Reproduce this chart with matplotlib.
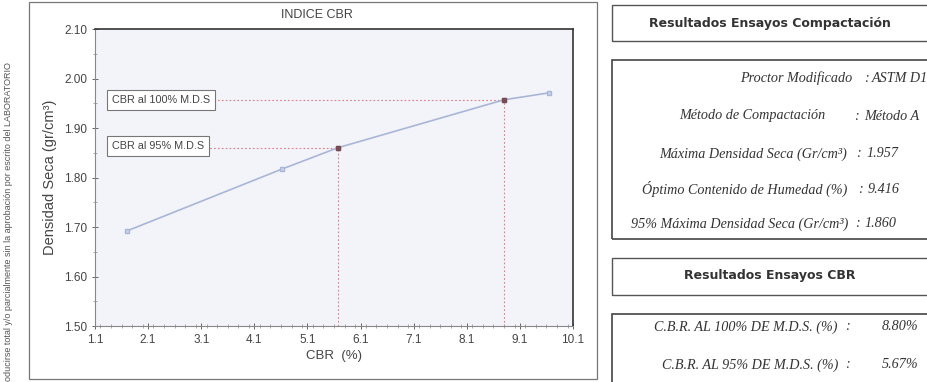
import matplotlib
matplotlib.use("Agg")
import matplotlib.pyplot as plt
from matplotlib.patches import Rectangle
from matplotlib.ticker import MultipleLocator, FixedLocator

# CBR curve (CBR %, dry density g/cm3)
cbr = [1.70, 4.62, 5.67, 8.80, 9.65]
densidad = [1.692, 1.817, 1.860, 1.957, 1.971]

# Design values
cbr_100 = 8.80
mds_100 = 1.957
cbr_95 = 5.67
mds_95 = 1.860

x_ticks = [1.1, 2.1, 3.1, 4.1, 5.1, 6.1, 7.1, 8.1, 9.1, 10.1]
y_ticks = [1.50, 1.60, 1.70, 1.80, 1.90, 2.00, 2.10]

compactacion_labels = ["Proctor Modificado", "Método de Compactación",
                       "Máxima Densidad Seca (Gr/cm³)", "Óptimo Contenido de Humedad (%)",
                       "95% Máxima Densidad Seca (Gr/cm³)"]
compactacion_values = ["ASTM D1557", "Método A", "1.957", "9.416", "1.860"]

cbr_labels = ["C.B.R. AL 100% DE M.D.S. (%)", "C.B.R. AL 95% DE M.D.S. (%)"]
cbr_values = ["8.80%", "5.67%"]

W, H = 928, 382
SANS = ["Liberation Sans", "DejaVu Sans"]
TXT = "#444444"

fig = plt.figure(figsize=(W / 100, H / 100), dpi=100)
fig.patch.set_facecolor("white")


def fx(px):
    return px / W


def fy(py):
    return 1 - py / H


def box(x0, y0, x1, y1, lw=1.0, color="#555555"):
    fig.add_artist(Rectangle((fx(x0), fy(y1)), fx(x1 - x0), (y1 - y0) / H,
                             transform=fig.transFigure, fill=False,
                             edgecolor=color, linewidth=lw))


# chart frame
box(29, 2, 597, 379, lw=0.9, color="#777777")

ax = fig.add_axes([fx(95), fy(326), fx(573 - 95), (326 - 29) / H])
ax.set_facecolor("#f3f4fa")
ax.set_xlim(1.1, 10.1)
ax.set_ylim(1.50, 2.10)
ax.xaxis.set_major_locator(FixedLocator(x_ticks))
ax.yaxis.set_major_locator(FixedLocator(y_ticks))
ax.xaxis.set_minor_locator(MultipleLocator(0.2))
ax.yaxis.set_minor_locator(MultipleLocator(0.05))
ax.set_xticklabels([f"{v:.1f}" for v in x_ticks], family=SANS, fontsize=8.5, color=TXT)
ax.set_yticklabels([f"{v:.2f}" for v in y_ticks], family=SANS, fontsize=8.5, color=TXT)
ax.tick_params(which="major", direction="inout", length=5, width=0.7, colors="#666666", pad=3)
ax.tick_params(which="minor", direction="inout", length=2.5, width=0.5, colors="#888888")
ax.tick_params(axis="both", labelcolor=TXT)
for side in ["left", "bottom"]:
    ax.spines[side].set_color("#888888")
    ax.spines[side].set_linewidth(0.8)
for side in ["top", "right"]:
    ax.spines[side].set_color("#333333")
    ax.spines[side].set_linewidth(1.2)

ax.set_xlabel("CBR  (%)", family=SANS, fontsize=9.5, color=TXT, labelpad=3)
ax.set_ylabel("Densidad Seca (gr/cm³)", family=SANS, fontsize=10.5, color=TXT, labelpad=5)

# reference lines to the design points
ref_color = "#e07a80"
dots = (0, (1.5, 2))
ax.plot([1.1 + 0.62, cbr_100], [mds_100, mds_100], color=ref_color, lw=0.8, ls=dots)
ax.plot([cbr_100, cbr_100], [1.50, mds_100], color=ref_color, lw=0.8, ls=dots)
ax.plot([1.1 + 0.62, cbr_95], [mds_95, mds_95], color=ref_color, lw=0.8, ls=dots)
ax.plot([cbr_95, cbr_95], [1.50, mds_95], color=ref_color, lw=0.8, ls=dots)

# CBR curve
ax.plot(cbr, densidad, color="#a9b6d6", lw=1.2, marker="s", markersize=3,
        markerfacecolor="#c9d2ea", markeredgecolor="#a9b6d6", zorder=3)
ax.plot([cbr_95, cbr_100], [mds_95, mds_100], ls="none", marker="s", markersize=3.5,
        color="#7a4a55", zorder=4)

bbox = dict(boxstyle="square,pad=0.45", facecolor="white", edgecolor="#777777", linewidth=0.8)
ax.text(1.42, mds_100, "CBR al 100% M.D.S", family=SANS, fontsize=7.8, color=TXT,
        va="center", ha="left", bbox=bbox, zorder=5)
ax.text(1.42, mds_95 + 0.004, "CBR al 95% M.D.S", family=SANS, fontsize=7.8, color=TXT,
        va="center", ha="left", bbox=bbox, zorder=5)

fig.text(fx(317), fy(15), "INDICE CBR", family=SANS, fontsize=9, color=TXT,
         ha="center", va="center")

fig.text(fx(9), fy(222),
         "oducirse total y/o parcialmente sin la aprobación por escrito del LABORATORIO",
         family=SANS, fontsize=6.5, color="#555555", rotation=90, ha="center", va="center")

# results panels
box(612, 5, 940, 41, lw=1.0, color="#555555")
box(612, 60, 940, 239, lw=1.2, color="#444444")
box(612, 258, 940, 295, lw=1.0, color="#555555")
box(612, 314, 940, 400, lw=1.2, color="#444444")

fig.text(fx(770), fy(24), "Resultados Ensayos Compactación", family="DejaVu Sans",
         fontweight="bold", fontsize=9, color="#333333", ha="center", va="center")
fig.text(fx(770), fy(276), "Resultados Ensayos CBR", family="DejaVu Sans",
         fontweight="bold", fontsize=9, color="#333333", ha="center", va="center")

serif = dict(family="Liberation Serif", style="italic", fontsize=10.2, color="#333333", va="center")
rows_y = [78, 116, 154, 189, 224]
label_end = [852, 825, 847, 847, 848]
colon_x = [866, 856, 858, 860, 857]
value_x = [872, 864, 867, 868, 865]
for lab, val, yy, le, cx, vx in zip(compactacion_labels, compactacion_values, rows_y,
                                    label_end, colon_x, value_x):
    fig.text(fx(le), fy(yy), lab, ha="right", **serif)
    fig.text(fx(cx), fy(yy), ":", ha="center", **serif)
    fig.text(fx(vx), fy(yy), val, ha="left", **serif)

for lab, val, yy in zip(cbr_labels, cbr_values, [327, 365]):
    fig.text(fx(838), fy(yy), lab, ha="right", **serif)
    fig.text(fx(847), fy(yy), ":", ha="center", **serif)
    fig.text(fx(882), fy(yy), val, ha="left", **serif)

fig.savefig("out.png", dpi=100, facecolor="white")
